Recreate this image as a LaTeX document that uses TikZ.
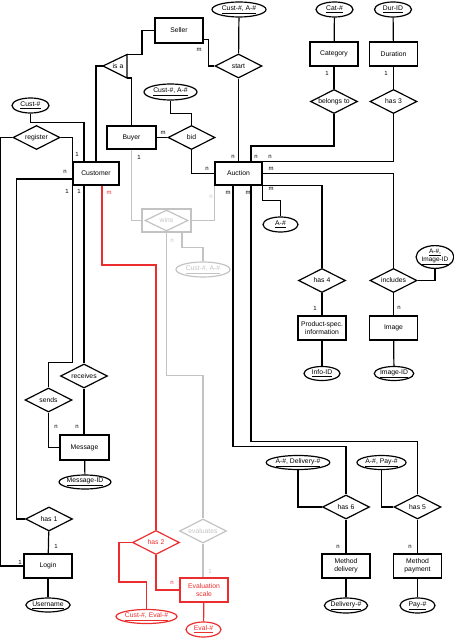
\documentclass[tikz,border=0pt]{standalone}
\usepackage{fontspec}
\setmainfont{Liberation Sans}
\usetikzlibrary{shapes.geometric}
\definecolor{errred}{RGB}{235,45,45}
\definecolor{faint}{RGB}{195,195,195}

\begin{document}
\begin{tikzpicture}[
    x=1pt, y=-1pt,
    every node/.style={font=\fontsize{6.8}{8}\selectfont},
    ent/.style={rectangle, draw, line width=1.2pt, minimum width=48pt, minimum height=24pt, inner sep=1pt, align=center},
    rel/.style={diamond, draw, line width=1.2pt, aspect=2, inner sep=0pt, minimum width=47pt, minimum height=24pt},
    attr/.style={ellipse, draw, line width=1.2pt, inner sep=0pt, minimum height=15pt, align=center},
    card/.style={font=\fontsize{6}{7}\selectfont, inner sep=0pt},
    link/.style={line width=1.2pt},
    hot/.style={draw=errred, text=errred},
    dim/.style={draw=faint, text=faint}
  ]
    \useasboundingbox (0,0) rectangle (454,639);

    % Entities
    \node[ent, minimum height=25pt] (seller) at (179,30.5) {Seller};
    \node[ent, minimum width=49pt, minimum height=23pt] (buyer) at (131.5,137.5) {Buyer};
    \node[ent, minimum width=46pt, minimum height=23pt] (customer) at (96,173.5) {Customer};
    \node[ent, minimum width=47pt, minimum height=23pt] (auction) at (238.5,173.5) {Auction};
    \node[ent] (category) at (334,54) {Category};
    \node[ent] (duration) at (393.5,54) {Duration};
    \node[ent] (prodinfo) at (322,328) {Product-spec.\\information};
    \node[ent] (image) at (393.5,328) {Image};
    \node[ent] (delivery) at (346,566) {Method\\delivery};
    \node[ent] (payment) at (417.5,566) {Method\\payment};
    \node[ent, minimum width=49pt, minimum height=25pt] (message) at (84.5,447.5) {Message};
    \node[ent] (login) at (48,566) {Login};
    \node[ent, hot] (evalscale) at (204,590) {Evaluation\\scale};

    % Relationships
    \node[rel] (start) at (238.5,66) {start};
    \node[rel] (belongs) at (334,101.5) {belongs to};
    \node[rel] (has3) at (393.5,101.5) {has 3};
    \node[rel] (bid) at (191.5,137.5) {bid};
    \node[rel] (register) at (36.5,137.5) {register};
    \node[ent, dim, minimum width=49pt, minimum height=23pt] (winsbox) at (166.5,220.5) {};
    \node[rel, dim, minimum width=43pt, minimum height=21pt] (wins) at (winsbox) {wins};
    \node[rel] (has4) at (322,280.5) {has 4};
    \node[rel] (includes) at (393.5,280.5) {includes};
    \node[rel] (sends) at (48.5,400) {sends};
    \node[rel] (receives) at (84,376) {receives};
    \node[rel] (has1) at (49,519) {has 1};
    \node[rel, hot] (has2) at (156,542.5) {has 2};
    \node[rel, dim] (evaluates) at (203,531) {evaluates};
    \node[rel] (has6) at (346,507) {has 6};
    \node[rel] (has5) at (417.5,507) {has 5};

    % Generalisation triangle
    \coordinate (isaL) at (103,66);
    \coordinate (isaT) at (127,54.5);
    \coordinate (isaB) at (127,78);
    \coordinate (isaS) at (142,54.5);
    \draw[link] (isaL) -- (isaT) -- (isaB) -- cycle;
    \node (isa) at (118,66) {is a};

    % Key attributes
    \node[attr, minimum width=54pt] (custauc) at (239,9.5) {\underline{Cust-\#, A-\#}};
    \node[attr, minimum width=37pt] (catid) at (334.5,9.5) {\underline{Cat-\#}};
    \node[attr, minimum width=37pt] (durid) at (393,9.5) {\underline{Dur-ID}};
    \node[attr, minimum width=53pt, minimum height=16pt] (bidkey) at (170.5,92) {\underline{Cust-\#, A-\#}};
    \node[attr, minimum width=37pt] (custid) at (30.5,105.5) {\underline{Cust-\#}};
    \node[attr, minimum width=35pt] (aid) at (280.5,224.5) {\underline{A-\#}};
    \node[attr, minimum width=37pt, minimum height=21pt, font=\fontsize{6.5}{7}\selectfont] (aimg) at (435,257) {\underline{A-\#,}\\\underline{Image-ID}};
    \node[attr, minimum width=36pt, minimum height=14pt] (infoid) at (322,373.5) {\underline{Info-ID}};
    \node[attr, minimum width=38pt, minimum height=14pt] (imageid) at (394,373.5) {\underline{Image-ID}};
    \node[attr, minimum width=60pt, minimum height=14pt] (adel) at (298,462.5) {\underline{A-\#, Delivery-\#}};
    \node[attr, minimum width=49pt, minimum height=14pt] (apay) at (381.5,462.5) {\underline{A-\#, Pay-\#}};
    \node[attr, minimum width=42pt] (delid) at (346,605.5) {\underline{Delivery-\#}};
    \node[attr, minimum width=35pt] (payid) at (417.5,605.5) {\underline{Pay-\#}};
    \node[attr, minimum width=51pt, minimum height=14pt] (msgid) at (85,482) {\underline{Message-ID}};
    \node[attr, minimum width=40pt, minimum height=14pt] (username) at (48,605) {\underline{Username}};
    \node[attr, dim, minimum width=54pt] (winskey) at (203,269.5) {\underline{Cust-\#, A-\#}};
    \node[attr, hot, minimum width=53pt, minimum height=14pt] (evalkey) at (146.5,616.5) {\underline{Cust-\#, Eval-\#}};
    \node[attr, hot, minimum width=35pt] (evalid) at (203.5,629.5) {\underline{Eval-\#}};

    % Seller, buyer, auction
    \draw[link] (seller.west) -| (isaS) -- (isaT);
    \draw[link] (isaL) -| (customer.north);
    \draw[link] (isaB) -| (buyer.north);
    \draw[link] ([yshift=4pt]seller.south east) -| ([xshift=-6pt]start.west) -- (start.west);
    \draw[link] (custauc) -- (start);
    \draw[link] (start) -- (auction);
    \draw[link] (bidkey.south) -- ++(0,13) -| (bid.north);
    \draw[link] (buyer) -- (bid);
    \draw[link] (bid.south) |- (auction.west);

    % Category and duration
    \draw[link] (catid) -- (category);
    \draw[link] (category) -- (belongs);
    \draw[link] (belongs.south) -- ++(0,32) -| ([xshift=12.5pt]auction.north);
    \draw[link] (durid) -- (duration);
    \draw[link] (duration) -- (has3);
    \draw[link] (has3.south) |- (auction.north east);

    % Auction details
    \draw[link] (auction.east) -| (includes.north);
    \draw[link] (auction.south east) -| (has4.north);
    \draw[link] (auction.south east) -- ++(0,15) -| (aid.north);
    \draw[link] (has4) -- (prodinfo);
    \draw[link] (prodinfo) -- (infoid);
    \draw[link] (includes) -- (image);
    \draw[link] (image) -- (imageid);
    \draw[link] (includes.east) -| (aimg.south);
    \draw[link] ([xshift=-5.5pt]auction.south) |- ([yshift=48pt]has6.north) -- (has6.north);
    \draw[link] ([xshift=12.5pt]auction.south) |- ([yshift=53pt]has5.north) -- (has5.north);
    \draw[link] (adel.south) |- (has6.west);
    \draw[link] (apay.south) |- (has5.west);
    \draw[link] (has6) -- (delivery);
    \draw[link] (delivery) -- (delid);
    \draw[link] (has5) -- (payment);
    \draw[link] (payment) -- (payid);

    % Customer side
    \draw[link] (custid.south) -- ++(0,9) -| ([xshift=-12pt]customer.north);
    \draw[link] (register.east) -| (customer.north west);
    \draw[link] (register.west) -| ([xshift=-23pt]login.west) -- (login.west);
    \draw[link] (has1.west) -| ([xshift=-56pt, yshift=-5.5pt]customer.west) -- ([yshift=-5.5pt]customer.west);
    \draw[link] (has1) -- (login);
    \draw[link] (login) -- (username);
    \draw[link] (customer.south west) |- ([yshift=25pt]sends.north) -- (sends.north);
    \draw[link] ([xshift=-12pt]customer.south) -- (receives.north);
    \draw[link] (sends.south) |- (message.west);
    \draw[link] (receives.south) -- ([xshift=-0.5pt]message.north);
    \draw[link] (message) -- (msgid);

    % Evaluation (red)
    \draw[link, errred] ([xshift=6pt]customer.south) |- ([yshift=265pt]has2.north) -- (has2.north);
    \draw[link, errred] (has2.west) -- ++(-13,0) |- ([yshift=27pt]evalkey.north) -- (evalkey.north);
    \draw[link, errred] (has2.south) |- (evalscale.west);
    \draw[link, errred] (evalscale) -- (evalid);

    % Wins (grey)
    \draw[link, faint] (buyer.south) |- (winsbox.west);
    \draw[link, faint] (winsbox.east) -| (auction.south west);
    \draw[link, faint] (winsbox.south) |- ([yshift=143pt]evaluates.north) -- (evaluates.north);
    \draw[link, faint] ([xshift=15.5pt]winsbox.south) -- ++(0,15) -| (winskey.north);
    \draw[link, faint] (evaluates.south) -- ([xshift=-1pt]evalscale.north);

    % Cardinalities
    \node[card] (cSelSt) at (199,50) {m};
    \node[card] (cCat) at (327,73) {1};
    \node[card] (cDur) at (386,73) {1};
    \node[card] (cAucSt) at (233,157) {n};
    \node[card] (cAucBel) at (256,157) {n};
    \node[card] (cAucH3) at (270,157) {n};
    \node[card] (cAucInc) at (271,169) {m};
    \node[card] (cAucH4) at (271,189) {m};
    \node[card] (cAucH6) at (228,193) {m};
    \node[card] (cAucH5) at (248,193) {m};
    \node[card] (cAucBid) at (207,169) {n};
    \node[card] (cBuyBid) at (163,133) {m};
    \node[card] (cBuyWin) at (139,157) {1};
    \node[card] (cCusReg) at (77,154) {1};
    \node[card] (cCusH1) at (65,172) {n};
    \node[card] (cCusSe) at (67,191) {1};
    \node[card] (cCusRe) at (79,191) {1};
    \node[card] (cMsgSe) at (56,427) {n};
    \node[card] (cMsgRe) at (77,427) {n};
    \node[card] (cLogH1) at (56,546) {1};
    \node[card] (cLogReg) at (20,562) {1};
    \node[card] (cInfo) at (315,308) {1};
    \node[card] (cImg) at (399,308) {n};
    \node[card] (cDel) at (338,547) {n};
    \node[card] (cPay) at (410,547) {n};
    \node[card, text=errred] (cCusH2) at (109,193) {m};
    \node[card, text=errred] (cEvalH2) at (172,583) {n};
    \node[card, text=faint] (cAucWin) at (211,197) {n};
    \node[card, text=faint] (cWinEv) at (172,241) {n};
    \node[card, text=faint] (cEvalEv) at (210,571) {1};

  \end{tikzpicture}
\end{document}
